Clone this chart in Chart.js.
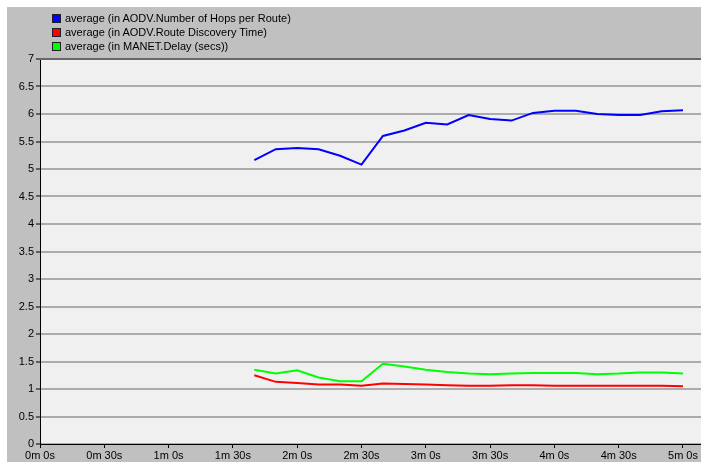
<!DOCTYPE html>
<html>
<head>
<meta charset="utf-8">
<script src="https://cdn.jsdelivr.net/npm/chart.js@4/dist/chart.umd.min.js"></script>
<style>
  html, body { margin: 0; padding: 0; background: #ffffff; }
  #wrap { position: relative; width: 701px; height: 462px; }
  #c { position: absolute; left: 0; top: 0; }
  #legend { position: absolute; left: 52px; top: 11px; font: 11px "Liberation Sans", Arial, sans-serif; color: #000; }
  .li { height: 14px; line-height: 14px; white-space: nowrap; display: flex; align-items: center; }
  .sw { display: inline-block; width: 7px; height: 7px; border: 1px solid #202020; margin-right: 4px; }
</style>
</head>
<body>
<div id="wrap">
  <canvas id="c" width="701" height="462"></canvas>
  <div id="legend"></div>
</div>
<script>
// ---- data ----
const timeSeconds = [100,110,120,130,140,150,160,170,180,190,200,210,220,230,240,250,260,270,280,290,300];
const seriesNames = [
  'average (in AODV.Number of Hops per Route)',
  'average (in AODV.Route Discovery Time)',
  'average (in MANET.Delay (secs))'
];
const hopsPerRoute = [5.16,5.36,5.38,5.36,5.24,5.08,5.60,5.70,5.84,5.81,5.98,5.91,5.88,6.02,6.06,6.06,6.00,5.98,5.98,6.05,6.07];
const routeDiscoveryTime = [1.25,1.13,1.11,1.08,1.08,1.06,1.10,1.09,1.08,1.07,1.06,1.06,1.07,1.07,1.06,1.06,1.06,1.06,1.06,1.06,1.05];
const manetDelay = [1.35,1.28,1.34,1.21,1.14,1.14,1.46,1.41,1.35,1.31,1.28,1.27,1.28,1.29,1.29,1.29,1.27,1.28,1.30,1.30,1.28];
const xTickValues = [0,30,60,90,120,150,180,210,240,270,300];
const xTickLabels = ['0m 0s','0m 30s','1m 0s','1m 30s','2m 0s','2m 30s','3m 0s','3m 30s','4m 0s','4m 30s','5m 0s'];
const yTickValues = [0,0.5,1,1.5,2,2.5,3,3.5,4,4.5,5,5.5,6,6.5,7];
const yTickLabels = ['0','0.5','1','1.5','2','2.5','3','3.5','4','4.5','5','5.5','6','6.5','7'];
const seriesColors = ['#0000ff','#ff0000','#00ff00'];
const seriesValues = [hopsPerRoute, routeDiscoveryTime, manetDelay];

// ---- legend (HTML) ----
const legendEl = document.getElementById('legend');
seriesNames.forEach((name, i) => {
  const row = document.createElement('div');
  row.className = 'li';
  const sw = document.createElement('span');
  sw.className = 'sw';
  sw.style.background = seriesColors[i];
  row.appendChild(sw);
  row.appendChild(document.createTextNode(name));
  legendEl.appendChild(row);
});

const bgPlugin = {
  id: 'bg',
  beforeDraw(chart) {
    const ctx = chart.ctx, a = chart.chartArea;
    ctx.save();
    ctx.fillStyle = '#ffffff';
    ctx.fillRect(0, 0, chart.width, chart.height);
    ctx.fillStyle = '#c0c0c0';
    ctx.fillRect(7, 7, chart.width - 7, chart.height - 7);
    ctx.fillStyle = '#f0f0f0';
    ctx.fillRect(a.left, a.top, a.right - a.left, a.bottom - a.top);
    ctx.restore();
  },
  afterDraw(chart) {
    const ctx = chart.ctx, a = chart.chartArea;
    ctx.save();
    ctx.strokeStyle = '#686868';
    ctx.lineWidth = 2;
    ctx.beginPath();
    ctx.moveTo(a.left, a.top);
    ctx.lineTo(a.right, a.top);
    ctx.stroke();
    ctx.restore();
  }
};

const font = { family: '"Liberation Sans", Arial, sans-serif', size: 11 };

new Chart(document.getElementById('c'), {
  type: 'line',
  data: {
    datasets: seriesNames.map((name, i) => ({
      label: name,
      data: timeSeconds.map((t, j) => ({ x: t, y: seriesValues[i][j] })),
      borderColor: seriesColors[i],
      backgroundColor: seriesColors[i],
      borderWidth: 2,
      pointRadius: 0,
      tension: 0,
      fill: false
    }))
  },
  options: {
    responsive: false,
    animation: false,
    devicePixelRatio: 1,
    layout: { padding: { top: 59, left: 0, right: 0, bottom: 0 } },
    plugins: { legend: { display: false }, tooltip: { enabled: false } },
    scales: {
      x: {
        type: 'linear',
        min: 0,
        max: 308.4,
        afterFit(s) { s.height = 18; },
        afterBuildTicks(s) { s.ticks = xTickValues.map(v => ({ value: v })); },
        border: { display: true, color: '#000000', width: 1 },
        grid: { drawOnChartArea: false, drawTicks: true, tickLength: 4, tickColor: '#000000', tickWidth: 1 },
        ticks: {
          padding: 1,
          color: '#000000',
          font: font,
          maxRotation: 0,
          autoSkip: false,
          callback(v, idx) { return xTickLabels[idx]; }
        }
      },
      y: {
        min: 0,
        max: 7,
        afterFit(s) { s.width = 40; },
        afterBuildTicks(s) { s.ticks = yTickValues.map(v => ({ value: v })); },
        border: { display: true, color: '#000000', width: 1 },
        grid: { color: '#acacac', lineWidth: 2, drawTicks: true, tickLength: 4, tickColor: '#000000', tickWidth: 1 },
        ticks: { padding: 2, color: '#000000', font: font, autoSkip: false,
          callback(v, idx) { return yTickLabels[idx]; } }
      }
    }
  },
  plugins: [bgPlugin]
});
</script>
</body>
</html>
